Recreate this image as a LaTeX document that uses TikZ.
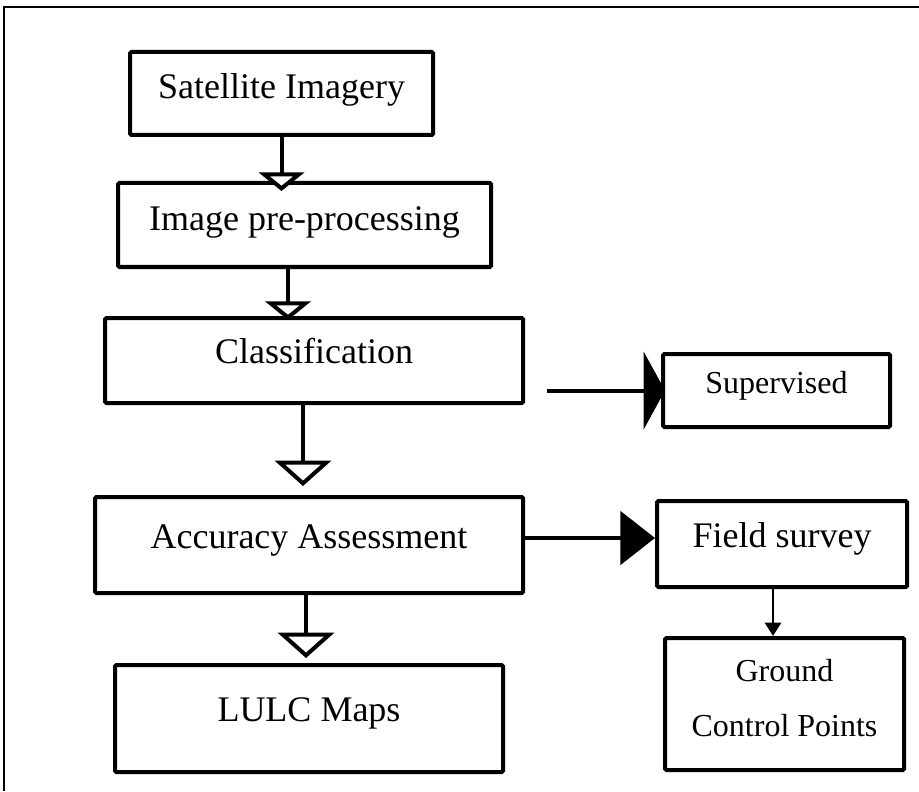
\documentclass[tikz,border=0pt]{standalone}
\usepackage{fontspec}
\setmainfont{Liberation Serif}
\usetikzlibrary{arrows.meta,calc}

\begin{document}
\begin{tikzpicture}[x=0.75pt,y=-0.75pt]
\tikzset{box/.style = {shape=rectangle,draw,line width=3pt,rounded corners=1pt,
		inner sep=0pt,align=center,text height=0.7em,text depth=0.25em,
		font=\fontsize{27}{32}\selectfont}}
\tikzset{low/.style = {text height=0.86em,text depth=0.09em}}
\tikzset{small/.style = {font=\fontsize{24}{41}\selectfont}}
\tikzset{edge/.style = {line width=3pt,-{Triangle[fill=white,length=14pt,width=34pt]}}}
\tikzset{bigedge/.style = {line width=3pt,-{Triangle[fill=white,length=19pt,width=42pt]}}}
\tikzset{sideedge/.style = {line width=3pt,-{Triangle[length=16pt,width=58pt]}}}
\tikzset{fieldedge/.style = {line width=3pt,-{Triangle[length=26pt,width=40pt]}}}
\tikzset{thinedge/.style = {line width=2.2pt,-{Triangle[length=10pt,width=12pt]}}}
\useasboundingbox (0,0) rectangle (919,791);
% frame
\draw[line width=1.2pt] (4,791) -- (4,7) -- (919,7);
% boxes
\node[box,low,minimum width=227.25pt,minimum height=62.25pt] (sat) at (281.5,93.5) {Satellite Imagery};
\node[box,low,minimum width=279.75pt,minimum height=63pt] (pre) at (304.5,225) {Image pre-processing};
\node[box,minimum width=313.5pt,minimum height=63.75pt] (cls) at (314,360.5) {Classification};
\node[box,minimum width=321pt,minimum height=72pt] (acc) at (309,545) {Accuracy Assessment};
\node[box,minimum width=291pt,minimum height=80.25pt] (lulc) at (309,718.5) {LULC Maps};
\node[box,small,minimum width=170.25pt,minimum height=54.75pt] (sup) at (776.5,390.5) {Supervised};
\node[box,minimum width=187.5pt,minimum height=64.5pt] (fld) at (782,544) {Field survey};
\node[box,small,text height=,text depth=9pt,minimum width=179.25pt,minimum height=99pt] (gcp) at (784.5,704) {Ground\\Control Points};

% edge ends
\coordinate (p1) at ($(pre.south)+(-16.5,0)$);
\coordinate (c1) at ($(cls.south)+(-11,0)$);
\coordinate (a1) at ($(acc.south)+(-3,0)$);
\coordinate (s1) at ($(cls.east |- sup.west)+(22,0)$);
\coordinate (f1) at ($(acc.east)+(0,-7)$);
\coordinate (g1) at ($(fld.south)+(-9,0)$);

%edges
\draw[edge,shorten >=-7.5pt] (sat) to (sat.south |- pre.north);
\draw[edge,shorten >=-3pt] (p1) to (p1 |- cls.north);
\draw[bigedge,shorten >=6.75pt] (c1) to (c1 |- acc.north);
\draw[bigedge,shorten >=3.75pt] (a1) to (a1 |- lulc.north);
\draw[sideedge,shorten >=-3pt] (s1) to (sup.west);
\draw[fieldedge] (f1) to (f1 -| fld.west);
\draw[thinedge] (g1) to (g1 |- gcp.north);
\end{tikzpicture}
\end{document}
